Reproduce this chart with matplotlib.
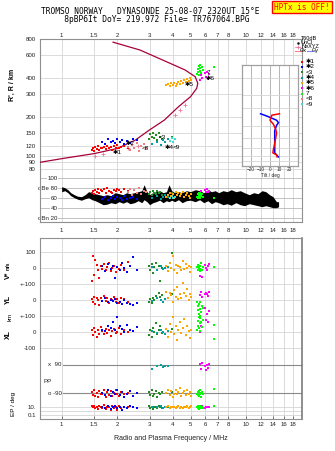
import numpy as np
import matplotlib
matplotlib.use("Agg")
from matplotlib import pyplot as plt
from matplotlib import ticker
from matplotlib.lines import Line2D

plt.rcParams['font.family'] = ['Liberation Sans', 'DejaVu Sans']

# ---- axes ticks ----
freq_ticks = [1, 1.5, 2, 3, 4, 5, 6, 7, 8, 10, 12, 14, 16, 18]
freq_labels = ['1', '1.5', '2', '3', '4', '5', '6', '7', '8', '10', '12', '14', '16', '18']
height_ticks = [80, 90, 100, 120, 150, 200, 300, 400, 600, 800]
db_ticks = [20, 40, 60, 80, 100]
db_labels = ['dBn 20', '40', '60', 'dBe 80', '100']
tilt_ticks = [-20, -10, 0, 10, 20]

# ---- real height profile (plasma frequency vs height) ----
prof_f = [0.763, 1.0, 1.5, 2.0, 2.5, 3.0, 3.6, 4.3, 5.0, 5.4, 5.47, 5.3, 4.67, 3.7, 2.66, 1.9]
prof_h = [90, 96, 105, 115, 133, 160, 190, 241, 288, 334, 365, 410, 462, 535, 658, 756]
nexyz_f = [1.52, 1.68, 1.95, 2.3, 2.6, 4.12, 4.4, 4.67]
nexyz_h = [101, 104, 109, 116, 121, 209, 228, 247]

# ---- tilt profile ----
tilt_hx = [263, 255, 227, 208, 185, 170, 134, 115, 108, 103, 98.5]
tilt_x = [10, 2, 0, 3.5, 6, 7, 5, 3.5, 3, 7, 7.5]
tilt_hy = [263, 250, 238, 227, 215, 202, 179, 134, 108, 103, 98.5]
tilt_y = [-10, -3.5, 2, 7, 9, 7, 5, 5, 5, 7, 9]

# ---- noise floor (dB) ----
noise_f = [1.00, 1.04, 1.08, 1.12, 1.17, 1.22, 1.28, 1.34, 1.40, 1.46, 1.52, 1.60, 1.68, 1.76,
           1.85, 1.95, 2.05, 2.15, 2.25, 2.35, 2.48, 2.60, 2.72, 2.80, 2.90, 3.00, 3.12, 3.25,
           3.40, 3.55, 3.70, 3.82, 3.95, 4.10, 4.30, 4.50, 4.75, 5.00, 5.30, 5.60, 5.90, 6.20,
           6.50, 6.80, 7.10, 7.50, 7.90, 8.30, 8.80, 9.30, 9.80, 10.4, 11.0, 11.6, 12.2, 12.8,
           13.4, 14.0, 14.6, 15.0]
noise_lo = [72, 74, 70, 64, 60, 57, 55, 58, 60, 56, 54, 50, 46, 47, 50, 48, 52, 49, 52, 48,
            50, 54, 50, 56, 52, 46, 50, 52, 55, 50, 54, 52, 55, 52, 56, 50, 54, 55, 52, 56,
            50, 54, 48, 52, 50, 46, 48, 45, 50, 46, 44, 48, 46, 44, 42, 44, 42, 40, 40, 42]
noise_hi = [82, 80, 76, 70, 66, 63, 62, 66, 72, 70, 68, 66, 64, 66, 64, 70, 68, 66, 70, 68,
            70, 72, 74, 86, 72, 66, 70, 72, 74, 70, 72, 86, 74, 70, 72, 70, 74, 72, 76, 74,
            70, 76, 72, 74, 70, 74, 72, 76, 72, 74, 70, 66, 70, 68, 74, 72, 66, 62, 52, 52]

# ---- echo groups: frequency MHz, height km, amplitude dB, V* m/s, YL km, XL km, PP deg, EP deg ----
f1 = [1.46, 1.48, 1.50, 1.52, 1.55, 1.58, 1.60, 1.63, 1.66, 1.70, 1.73, 1.76, 1.80, 1.84, 1.88,
      1.92, 1.96, 2.00, 2.05, 2.10, 2.18, 2.28]
h1 = [112, 116, 110, 118, 114, 120, 112, 117, 115, 119, 113, 121, 116, 118, 111, 120, 117, 122,
      115, 119, 121, 117]
db1 = [70, 74, 68, 76, 72, 78, 70, 75, 73, 77, 69, 79, 74, 72, 70, 76, 73, 78, 75, 71, 77, 74]
v1 = [-83, 77, -42, 52, 21, -10, -63, 10, -5, 25, -15, 5, 30, -20, 0, 15, -25, 8, -8, 20, -12, 35]
yl1 = [5, -15, 20, -25, 10, 0, -30, 15, -8, 25, -5, 12, -20, 8, 0, 18, -12, 6, -18, 10, 3, -10]
xl1 = [10, -20, 25, 0, -30, 15, -10, 30, 5, -15, 20, -5, 12, -25, 8, 18, -8, 2, 22, -12, 10, -3]
pp1 = [-82, -102, -72, -107, -87, -117, -77, -97, -92, -67, -112, -85, -99, -77, -105, -89, -72,
       -95, -109, -82, -97, -87]
ep1 = [12, 6.4, 19, 3.8, 9, 2.7, 16, 7.7, 5, 22, 3.2, 11, 6.4, 1.6, 14, 4.5, 8.4, 2, 17, 6, 10, 7]

f2 = [1.66, 1.72, 1.78, 1.84, 1.90, 1.95, 2.00, 2.06, 2.12, 2.18, 2.25, 2.35, 2.45, 2.55]
h2 = [130, 125, 135, 128, 132, 126, 137, 129, 134, 124, 131, 127, 136, 133]
db2 = [58, 62, 55, 60, 64, 57, 61, 59, 56, 63, 58, 60, 62, 57]
v2 = [10, -20, 25, -5, 15, -63, 5, -15, 30, 0, -25, 12, 69, -10]
yl2 = [-5, 10, -15, 0, -8, 5, -20, -10, -25, -3, -18, -28, -31, -22]
xl2 = [15, 5, 40, 25, 60, 10, 92, 35, 20, 0, 45, 15, 5, 30]
pp2 = [-87, -102, -72, -107, -79, -95, -67, -99, -85, -112, -92, -77, -105, -89]
ep2 = [9, 4.9, 16, 3.2, 7.7, 12, 3.8, 6.4, 2, 9, 5.4, 14, 7.7, 4.5]

f3 = [2.97, 3.02, 3.08, 3.13, 3.18, 3.24, 3.30, 3.36, 3.42, 3.50, 3.95]
h3 = [135, 148, 140, 152, 138, 145, 133, 150, 142, 137, 140]
db3 = [68, 72, 66, 74, 70, 67, 73, 69, 71, 65, 70]
v3 = [10, -15, 25, -30, 5, 33, -10, 15, -83, 0, 94]
yl3 = [-10, 5, -19, 15, 0, 25, 10, 44, 20, 30, 35]
xl3 = [-20, 10, -31, 25, 0, 56, -10, 15, 35, -5, 20]
pp3 = [-82, -102, -72, -107, -92, -77, -112, -87, -97, -79, -85]
ep3 = [12, 4.9, 7.7, 3.2, 9, 6.4, 4.5, 16, 7.7, 3.8, 11]

f4 = [3.10, 3.30, 3.45, 3.55, 3.65, 3.75]
h4 = [125, 130, 122, 134, 128, 136]
db4 = [60, 64, 58, 62, 66, 61]
v4 = [5, -10, 12, -5, 0, 8]
yl4 = [-8, 10, 0, -15, 5, 12]
xl4 = [5, -8, 10, 0, -12, 6]
pp4 = [66, 86, 91, 74, 81, 86]
ep4 = [9, 6.4, 12, 4.9, 7.7, 11]

f5 = [3.70, 3.78, 3.85, 3.92, 4.00, 4.08, 4.15, 4.22, 4.30, 4.38, 4.46, 4.55, 4.63, 4.72, 4.80,
      4.88, 4.96, 5.05]
h5 = [352, 360, 348, 365, 356, 370, 350, 362, 375, 358, 380, 368, 385, 372, 392, 378, 400, 388]
db5 = [62, 66, 70, 64, 68, 60, 72, 65, 69, 63, 67, 71, 61, 66, 70, 64, 59, 68]
v5 = [10, -20, 30, 0, 72, -10, 20, -31, 15, 5, -15, 41, -5, 25, 0, 12, -25, 8]
yl5 = [52, 10, 42, 30, -10, 60, 20, 83, 5, 35, 15, 104, 45, 25, 70, 0, 40, 18]
xl5 = [20, -30, 50, 0, 96, -15, 35, -50, 10, 60, -5, 25, 80, -20, 40, 5, -35, 15]
pp5 = [-87, -67, -102, -77, -112, -92, -72, -97, -82, -57, -107, -87, -77, -99, -67, -92, -82, -105]
ep5 = [7.7, 12, 4.9, 9, 6.4, 11, 3.8, 7.7, 13, 5.4, 8.4, 4.5, 10, 7, 16, 5.9, 9, 12]

f6 = [5.62, 5.70, 5.80, 5.95, 6.05, 6.12, 6.20, 6.26]
h6 = [390, 420, 400, 440, 410, 449, 395, 430]
db6 = [70, 74, 68, 76, 72, 78, 71, 73]
v6 = [-48, 30, -59, 21, 0, -15, 10, 25]
yl6 = [30, 52, 21, 40, 45, 35, 25, 48]
xl6 = [0, 40, 33, 150, 75, 110, 60, 130]
pp6 = [96, 66, 104, 81, 59, 91, 71, 98]
ep6 = [9, 6.4, 12, 5.4, 7.7, 11, 7, 8.4]

f7 = [5.45, 5.50, 5.52, 5.55, 5.58, 5.60, 5.63, 5.66, 5.70, 5.75, 5.82, 6.70]
h7 = [430, 470, 445, 500, 425, 480, 455, 505, 440, 490, 465, 490]
db7 = [62, 68, 59, 70, 64, 66, 60, 69, 63, 67, 61, 60]
v7 = [5, -10, 20, 0, 15, -21, 10, -5, 33, -15, 8, 4]
yl7 = [-15, -40, -65, -25, -90, -55, -100, -10, -75, -35, -50, -156]
xl7 = [10, 40, 70, 25, 95, 55, 85, 5, 60, 30, 75, -44]
pp7 = [-92, -82, -102, -77, -107, -87, -97, -72, -112, -85, -95, -63]
ep7 = [7.7, 4.5, 12, 3.2, 9, 5.4, 6.4, 16, 3.8, 8.4, 5.9, 13]

f8 = [2.28, 2.35, 2.42, 2.48, 2.55, 2.62, 2.70, 2.78, 2.88]
h8 = [118, 112, 122, 115, 126, 110, 120, 124, 116]
db8 = [72, 78, 66, 75, 70, 79, 68, 74, 71]

f9 = [3.88, 3.95, 4.02, 4.10]
h9 = [132, 138, 129, 135]
db9 = [60, 63, 59, 62]

group_labels = ['\u27311', '\u27312', '<3', '\u27314', '\u27315', '\u27316', '7', '<8', '<9']
group_colors = ['#ff0000', '#0000ff', '#228b22', '#00a0a0', '#ffa500', '#ff00ff', '#00ff00',
                '#f08080', '#40e0d0']

# labels written next to the echo groups
tag_text = ['\u27311', '\u27312', '<8', '<3', '\u27314', '<9', '\u27315', '\u27316', '7']
tag_f = [1.88, 2.22, 2.72, 3.35, 3.63, 4.02, 4.67, 6.0, 6.15]
tag_h = [107, 126, 115, 140, 117, 117, 358, 398, 440]

# ---------------------------------------------------------------
W, H = 335, 451
fig = plt.figure(figsize=(W / 100, H / 100), dpi=100)
FS = 4.4
GRID = '#d4d4d4'
SPINE = '#909090'


def box(left, top, right, bottom):
    return [left / W, 1 - bottom / H, (right - left) / W, (bottom - top) / H]


def fx(x):
    return x / W


def fy(y):
    return 1 - y / H


def freq_axis(ax):
    ax.set_xscale('log')
    ax.set_xlim(0.763, 20.1)
    ax.set_xticks(freq_ticks)
    ax.set_xticklabels(freq_labels)
    ax.xaxis.set_minor_locator(ticker.NullLocator())
    ax.grid(True, axis='x', color=GRID, lw=0.6)
    for s in ax.spines.values():
        s.set_color(SPINE)
        s.set_linewidth(0.8)
    ax.tick_params(labelsize=FS, length=0, colors='#222222')


# height panel
ax_h = fig.add_axes(box(40, 39, 302, 172))
freq_axis(ax_h)
ax_h.set_yscale('log')
ax_h.set_ylim(75.8, 800)
ax_h.set_yticks(height_ticks)
ax_h.set_yticklabels([str(t) for t in height_ticks])
ax_h.yaxis.set_minor_locator(ticker.NullLocator())
ax_h.grid(True, axis='y', color=GRID, lw=0.6)
ax_h.xaxis.tick_top()
ax_h.tick_params(axis='x', pad=1)
ax_h.tick_params(axis='y', pad=3)
ax_h.spines['bottom'].set_visible(False)

ax_h.plot(prof_f, prof_h, color='#a8003c', lw=0.9, zorder=3)
ax_h.plot(nexyz_f, nexyz_h, ls='none', marker='+', ms=3, mew=0.6, color='#e87a9a', zorder=4)

height_groups = [(f1, h1), (f2, h2), (f3, h3), (f4, h4), (f5, h5), (f6, h6), (f7, h7),
                 (f8, h8), (f9, h9)]
for (ff, hh), c in zip(height_groups, group_colors):
    ax_h.plot(ff, hh, ls='none', marker='s', ms=2.0, mew=0, color=c, zorder=5)
for t, ff, hh in zip(tag_text, tag_f, tag_h):
    ax_h.text(ff, hh, t, fontsize=4.6, color='black', ha='left', va='center', zorder=6)

# amplitude panel
ax_d = fig.add_axes(box(40, 172, 302, 221.7))
freq_axis(ax_d)
ax_d.set_ylim(12, 111.4)
ax_d.set_yticks(db_ticks)
ax_d.set_yticklabels(db_labels)
ax_d.grid(True, axis='y', color='#b8b8b8', lw=0.6)
ax_d.tick_params(axis='y', pad=-12.5)
ax_d.tick_params(axis='x', pad=4.3)
ax_d.spines['top'].set_visible(False)
for lab in ax_d.get_yticklabels():
    lab.set_bbox(dict(facecolor='white', edgecolor='none', pad=0.4))
ax_d.fill_between(noise_f, noise_lo, noise_hi, color='black', lw=0, zorder=3)
db_groups = [(f1, db1), (f2, db2), (f3, db3), (f4, db4), (f5, db5), (f6, db6), (f7, db7),
             (f8, db8), (f9, db9)]
for (ff, dd), c in zip(db_groups, group_colors):
    ax_d.plot(ff, dd, ls='none', marker='s', ms=2.0, mew=0, color=c, zorder=5)

# tilt inset, same height scale as the main panel
log_top, log_bot = np.log10(800), np.log10(75.8)


def h_at(ypix):
    return 10 ** (log_top - (ypix - 39) / 133 * (log_top - log_bot))


ax_t = fig.add_axes(box(241.7, 65, 298.3, 166))
ax_t.set_facecolor('white')
ax_t.set_yscale('log')
ax_t.set_ylim(h_at(166), h_at(65))
ax_t.set_xlim(-30, 30)
ax_t.set_xticks(tilt_ticks)
ax_t.set_yticks(height_ticks)
ax_t.set_yticklabels([])
ax_t.yaxis.set_minor_locator(ticker.NullLocator())
ax_t.tick_params(length=0, labelsize=3.4, pad=1, colors='#222222')
ax_t.grid(True, axis='y', color=GRID, lw=0.6)
ax_t.grid(True, axis='x', color='#a8a8a8', lw=0.6)
for s in ax_t.spines.values():
    s.set_color('#a0a0a0')
    s.set_linewidth(0.9)
ax_t.set_xlabel('Tilt / deg', fontsize=3.4, labelpad=0.5, color='#222222')
ax_t.plot(tilt_y, tilt_hy, color='#0000ff', lw=1.1)
ax_t.plot(tilt_x, tilt_hx, color='#ff0000', lw=1.1)

# drift / position / polarisation panel
V_OFF, YL_OFF, XL_OFF = 400, 200, 0
PP_X, PP_O = -206, -383
EP_10, EP_DEC = -467, 26


def pp_pos(deg):
    return PP_O + (np.asarray(deg) + 90) * (PP_X - PP_O) / 180


def ep_pos(deg):
    return EP_10 + EP_DEC * np.log10(np.asarray(deg) / 10)


ax_l = fig.add_axes(box(40, 237.7, 302, 419))
freq_axis(ax_l)
ax_l.set_ylim(-544, 589)
lt = [V_OFF + 100, V_OFF, V_OFF - 100, YL_OFF, YL_OFF - 100, XL_OFF, XL_OFF - 100,
      ep_pos(10), ep_pos(0.1)]
ax_l.set_yticks(lt)
ax_l.set_yticklabels(['100', '0', '+-100', '0', '+-100', '0', '-100', '10.', '0.1'])
ax_l.grid(True, axis='y', color=GRID, lw=0.6)
ax_l.axhline(ep_pos(1), color=GRID, lw=0.6)
ax_l.tick_params(axis='y', pad=3)
ax_l.tick_params(axis='x', pad=2.2)
ax_l.tick_params(axis='x', direction='in', length=2, width=0.6, color='#606060')
ax_l.spines['right'].set_color('#707070')
ax_l.spines['right'].set_linewidth(1.1)
x0 = (63 - 40) / 262
for yv, lab in [(pp_pos(90), 'x  90'), (pp_pos(-90), 'o -90')]:
    ax_l.axhline(yv, xmin=x0, color='#8a8a8a', lw=0.8)
    ax_l.text(0.082, yv, lab, transform=ax_l.get_yaxis_transform(), fontsize=FS,
              ha='right', va='center', color='#222222')
ax_l.text(0.012, pp_pos(0) - 14, 'PP', transform=ax_l.get_yaxis_transform(), fontsize=FS,
          ha='left', va='center', color='#222222')
ax_l.set_xlabel('Radio and Plasma Frequency / MHz', fontsize=5, labelpad=6, color='#222222')

lower_groups = [(f1, v1, yl1, xl1, pp1, ep1), (f2, v2, yl2, xl2, pp2, ep2),
                (f3, v3, yl3, xl3, pp3, ep3), (f4, v4, yl4, xl4, pp4, ep4),
                (f5, v5, yl5, xl5, pp5, ep5), (f6, v6, yl6, xl6, pp6, ep6),
                (f7, v7, yl7, xl7, pp7, ep7)]
for (ff, vv, yy, xx, pp, ep), c in zip(lower_groups, group_colors):
    ff = np.asarray(ff)
    for yvals in (np.asarray(vv) + V_OFF, np.asarray(yy) + YL_OFF, np.asarray(xx) + XL_OFF,
                  pp_pos(pp), ep_pos(ep)):
        ax_l.plot(ff, yvals, ls='none', marker='s', ms=1.6, mew=0, color=c, zorder=5)

# side labels
fig.text(fx(12), fy(85), "R', R / km", rotation=90, fontsize=5, weight='bold',
         ha='center', va='center')
fig.text(fx(8), fy(275), 'V*', rotation=90, fontsize=5, weight='bold', ha='center', va='center')
fig.text(fx(8.5), fy(265.5), 'm/s', rotation=90, fontsize=3.4, weight='bold', ha='center',
         va='center')
fig.text(fx(8), fy(300), 'YL', rotation=90, fontsize=5, weight='bold', ha='center', va='center')
fig.text(fx(10), fy(316.5), 'km', rotation=90, fontsize=4.4, ha='center', va='center')
fig.text(fx(8), fy(334.5), 'XL', rotation=90, fontsize=5, weight='bold', ha='center', va='center')
fig.text(fx(14), fy(404), 'EP / deg', rotation=90, fontsize=4.6, ha='center', va='center')

# titles (two centred lines, the second shifted right with leading blanks)
fig.text(fx(150), fy(15.6),
         'TROMSO NORWAY   DYNASONDE 25-08-07 2320UT 15\u00b0E\n'
         '   8pBP6It DoY= 219.972 File= TR767064.BPG',
         family='DejaVu Sans Mono', fontsize=5.7, ha='center', va='center',
         multialignment='center', linespacing=0.95)
fig.text(fx(302), fy(7), 'HPTx is OFF!', family='DejaVu Sans Mono', fontsize=5.6,
         color='#ff0000', ha='center', va='center',
         bbox=dict(boxstyle='square,pad=0.25', facecolor='#ffff00', edgecolor='#ff0000', lw=1))

# legend at the right of the height panel
LS = 4.0


def fig_line(x1, x2, y, color, **kw):
    fig.add_artist(Line2D([fx(x1), fx(x2)], [fy(y), fy(y)], color=color, lw=0.8, **kw))


fig_line(295, 300, 39, '#a0a0a0')
fig.text(fx(301), fy(39), 'T60dB', fontsize=LS, ha='left', va='center')
fig.add_artist(Line2D([fx(298)], [fy(43)], marker='.', ms=1.5, color='black', ls='none'))
fig.text(fx(301), fy(43), 'UnCl', fontsize=LS, ha='left', va='center')
fig_line(295, 300, 47, '#f0a0b8')
fig.add_artist(Line2D([fx(297.5)], [fy(47)], marker='+', ms=3, mew=0.6, color='#e87a9a',
                      ls='none'))
fig.text(fx(301), fy(47), 'NeXYZ', fontsize=LS, ha='left', va='center')
fig_line(295, 299.5, 50.8, '#ff8080')
fig.text(fx(300), fy(50.8), '\u0398x', fontsize=LS, ha='left', va='center')
fig_line(307, 311.5, 50.8, '#8080ff')
fig.text(fx(312), fy(50.8), '\u0398y', fontsize=LS, ha='left', va='center')

for i, (lab, c) in enumerate(zip(group_labels, group_colors)):
    y = 61.7 + 5.3 * i
    fig.add_artist(Line2D([fx(302)], [fy(y)], marker='s', ms=1.8, mew=0, color=c, ls='none'))
    fig.text(fx(305.5), fy(y), lab, fontsize=4.6, ha='left', va='center')

fig.savefig('out.png', dpi=100)
